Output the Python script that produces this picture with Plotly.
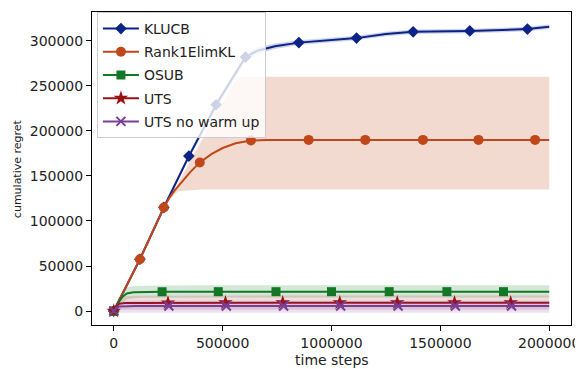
import plotly.graph_objects as go

# ---------------- data ----------------
klucb_x = [0, 60000, 120000, 230000, 345000, 470000, 605000, 660000, 740000, 850000,
           1000000, 1115000, 1250000, 1375000, 1635000, 1900000, 2000000]
klucb_y = [0, 28750, 57500, 115000, 172000, 229000, 282000, 289000, 294000, 298000,
           300500, 303000, 307500, 310000, 311000, 313000, 315500]
klucb_up = [0, 30500, 60000, 118000, 175000, 233000, 286000, 292500, 297000, 300500,
            303000, 305500, 310000, 312500, 313500, 315500, 318000]
klucb_lo = [0, 27000, 55000, 112000, 169000, 225000, 278000, 285500, 291000, 295500,
            298000, 300500, 305000, 307500, 308500, 310500, 313000]
klucb_marks = [0, 2, 3, 4, 5, 6, 9, 11, 13, 14, 15]

r1_x = [0, 120000, 230000, 255000, 280000, 310000, 350000, 395000, 450000, 500000,
        560000, 630000, 700000, 895000, 1155000, 1420000, 1675000, 1935000, 2000000]
r1_y = [0, 57500, 115000, 125500, 134000, 143000, 154000, 165000, 174500, 181000,
        186300, 189300, 190000, 190000, 190000, 190000, 190000, 190000, 190000]
r1_marks = [0, 1, 2, 7, 11, 13, 14, 15, 16, 17]
r1_band_x = [0, 120000, 230000, 260000, 295000, 400000, 500000, 560000, 575000, 2000000]
r1_up = [0, 57500, 115000, 125000, 142000, 187500, 231000, 257000, 260000, 260000]
r1_lo = [0, 57500, 115000, 124000, 133000, 135000, 135000, 135000, 135000, 135000]

osub_x = [0, 20000, 40000, 60000, 90000, 130000, 222000, 480000, 745000, 1000000,
          1265000, 1530000, 1790000, 2000000]
osub_y = [0, 9000, 16000, 19500, 20800, 21200, 21400, 21500, 21500, 21500,
          21500, 21500, 21500, 21500]
osub_up = [0, 13000, 22000, 26500, 27800, 28200, 28400, 28500, 28500, 28500,
           28500, 28500, 28500, 28500]
osub_lo = [0, 5000, 10000, 13000, 14300, 14700, 14900, 15000, 15000, 15000,
           15000, 15000, 15000, 15000]
osub_marks = [0, 6, 7, 8, 9, 10, 11, 12]

uts_x = [0, 10000, 25000, 50000, 100000, 249000, 513000, 776000, 1038000, 1302000,
         1565000, 1823000, 2000000]
uts_y = [0, 5000, 8000, 8800, 9000, 9100, 9200, 9200, 9200, 9200, 9200, 9200, 9200]
uts_up = [0, 9000, 14500, 16500, 17000, 17200, 17300, 17300, 17300, 17300, 17300, 17300, 17300]
uts_lo = [0, 1000, 1500, 1500, 1500, 1500, 1500, 1500, 1500, 1500, 1500, 1500, 1500]
uts_marks = [0, 5, 6, 7, 8, 9, 10, 11]

utsn_x = [0, 10000, 25000, 50000, 100000, 253000, 517000, 780000, 1042000, 1306000,
          1569000, 1827000, 2000000]
utsn_y = [0, 3500, 5000, 5400, 5500, 5500, 5500, 5500, 5500, 5500, 5500, 5500, 5500]
utsn_up = [0, 7000, 10000, 11000, 11500, 11500, 11500, 11500, 11500, 11500, 11500, 11500, 11500]
utsn_lo = [0, -1000, -1800, -2000, -2000, -2000, -2000, -2000, -2000, -2000, -2000, -2000, -2000]
utsn_marks = [0, 5, 6, 7, 8, 9, 10, 11]

x_ticks = [0, 500000, 1000000, 1500000, 2000000]
y_ticks = [0, 50000, 100000, 150000, 200000, 250000, 300000]

FONT = "DejaVu Sans"
fig = go.Figure()


def add_series(name, x, y, bx, up, lo, marks, color, band_rgba, symbol, msize, xline=False):
    fig.add_trace(go.Scatter(x=bx, y=up, mode="lines", line=dict(width=0, color=band_rgba),
                             showlegend=False, hoverinfo="skip", legendgroup=name))
    fig.add_trace(go.Scatter(x=bx, y=lo, mode="lines", line=dict(width=0, color=band_rgba),
                             fill="tonexty", fillcolor=band_rgba, showlegend=False,
                             hoverinfo="skip", legendgroup=name))
    marker = dict(symbol=symbol, size=msize, color=color)
    if xline:
        marker["line"] = dict(width=2, color=color)
    else:
        marker["line"] = dict(width=0)
    fig.add_trace(go.Scatter(
        x=x, y=y, name=name, mode="lines+markers", legendgroup=name,
        line=dict(color=color, width=2),
        marker=marker,
        selectedpoints=marks,
        selected=dict(marker=dict(opacity=1)),
        unselected=dict(marker=dict(opacity=0)),
    ))


add_series("KLUCB", klucb_x, klucb_y, klucb_x, klucb_up, klucb_lo, klucb_marks,
           "#0b2287", "rgba(11,34,135,0.2)", "diamond", 9)
add_series("Rank1ElimKL", r1_x, r1_y, r1_band_x, r1_up, r1_lo, r1_marks,
           "#c0471a", "rgba(192,71,26,0.2)", "circle", 10)
add_series("OSUB", osub_x, osub_y, osub_x, osub_up, osub_lo, osub_marks,
           "#127826", "rgba(18,120,38,0.18)", "square", 9)
add_series("UTS", uts_x, uts_y, uts_x, uts_up, uts_lo, uts_marks,
           "#9a1111", "rgba(154,17,17,0.15)", "star", 11)
add_series("UTS no warm up", utsn_x, utsn_y, utsn_x, utsn_up, utsn_lo, utsn_marks,
           "#7a3e99", "rgba(122,62,153,0.15)", "x-thin", 9, xline=True)

axis_common = dict(showgrid=False, zeroline=False, showline=True, linecolor="black",
                   linewidth=1, mirror=True, ticks="outside", ticklen=5, tickwidth=1,
                   tickcolor="black", tickfont=dict(family=FONT, size=14, color="#222"),
                   tickformat="d", ticklabeloverflow="allow")

# the page body adds an 8px offset, so the figure is 8px smaller than the window
fig.update_layout(
    width=575, height=361,
    margin=dict(l=84, r=6, t=3, b=44),
    paper_bgcolor="white", plot_bgcolor="white",
    font=dict(family=FONT, size=14, color="#222"),
    xaxis=dict(range=[-100000, 2100000], tickvals=x_ticks, **axis_common),
    yaxis=dict(range=[-15500, 332000], tickvals=y_ticks, **axis_common),
    legend=dict(x=0.0103, y=1.0, xanchor="left", yanchor="top",
                bgcolor="rgba(255,255,255,0.8)", bordercolor="#cccccc", borderwidth=1,
                font=dict(family=FONT, size=14, color="#222"),
                traceorder="grouped", tracegroupgap=2, itemwidth=36),
    showlegend=True,
    annotations=[
        dict(text="time steps", xref="paper", yref="paper", x=0.5, y=-0.111,
             xanchor="center", yanchor="middle", showarrow=False,
             font=dict(family=FONT, size=14, color="#222")),
        dict(text="cumulative regret", xref="paper", yref="paper", x=-0.173, y=0.5,
             xanchor="left", yanchor="middle", textangle=-90, showarrow=False,
             font=dict(family=FONT, size=11, color="#222")),
    ],
)

fig.write_html("out.html")
